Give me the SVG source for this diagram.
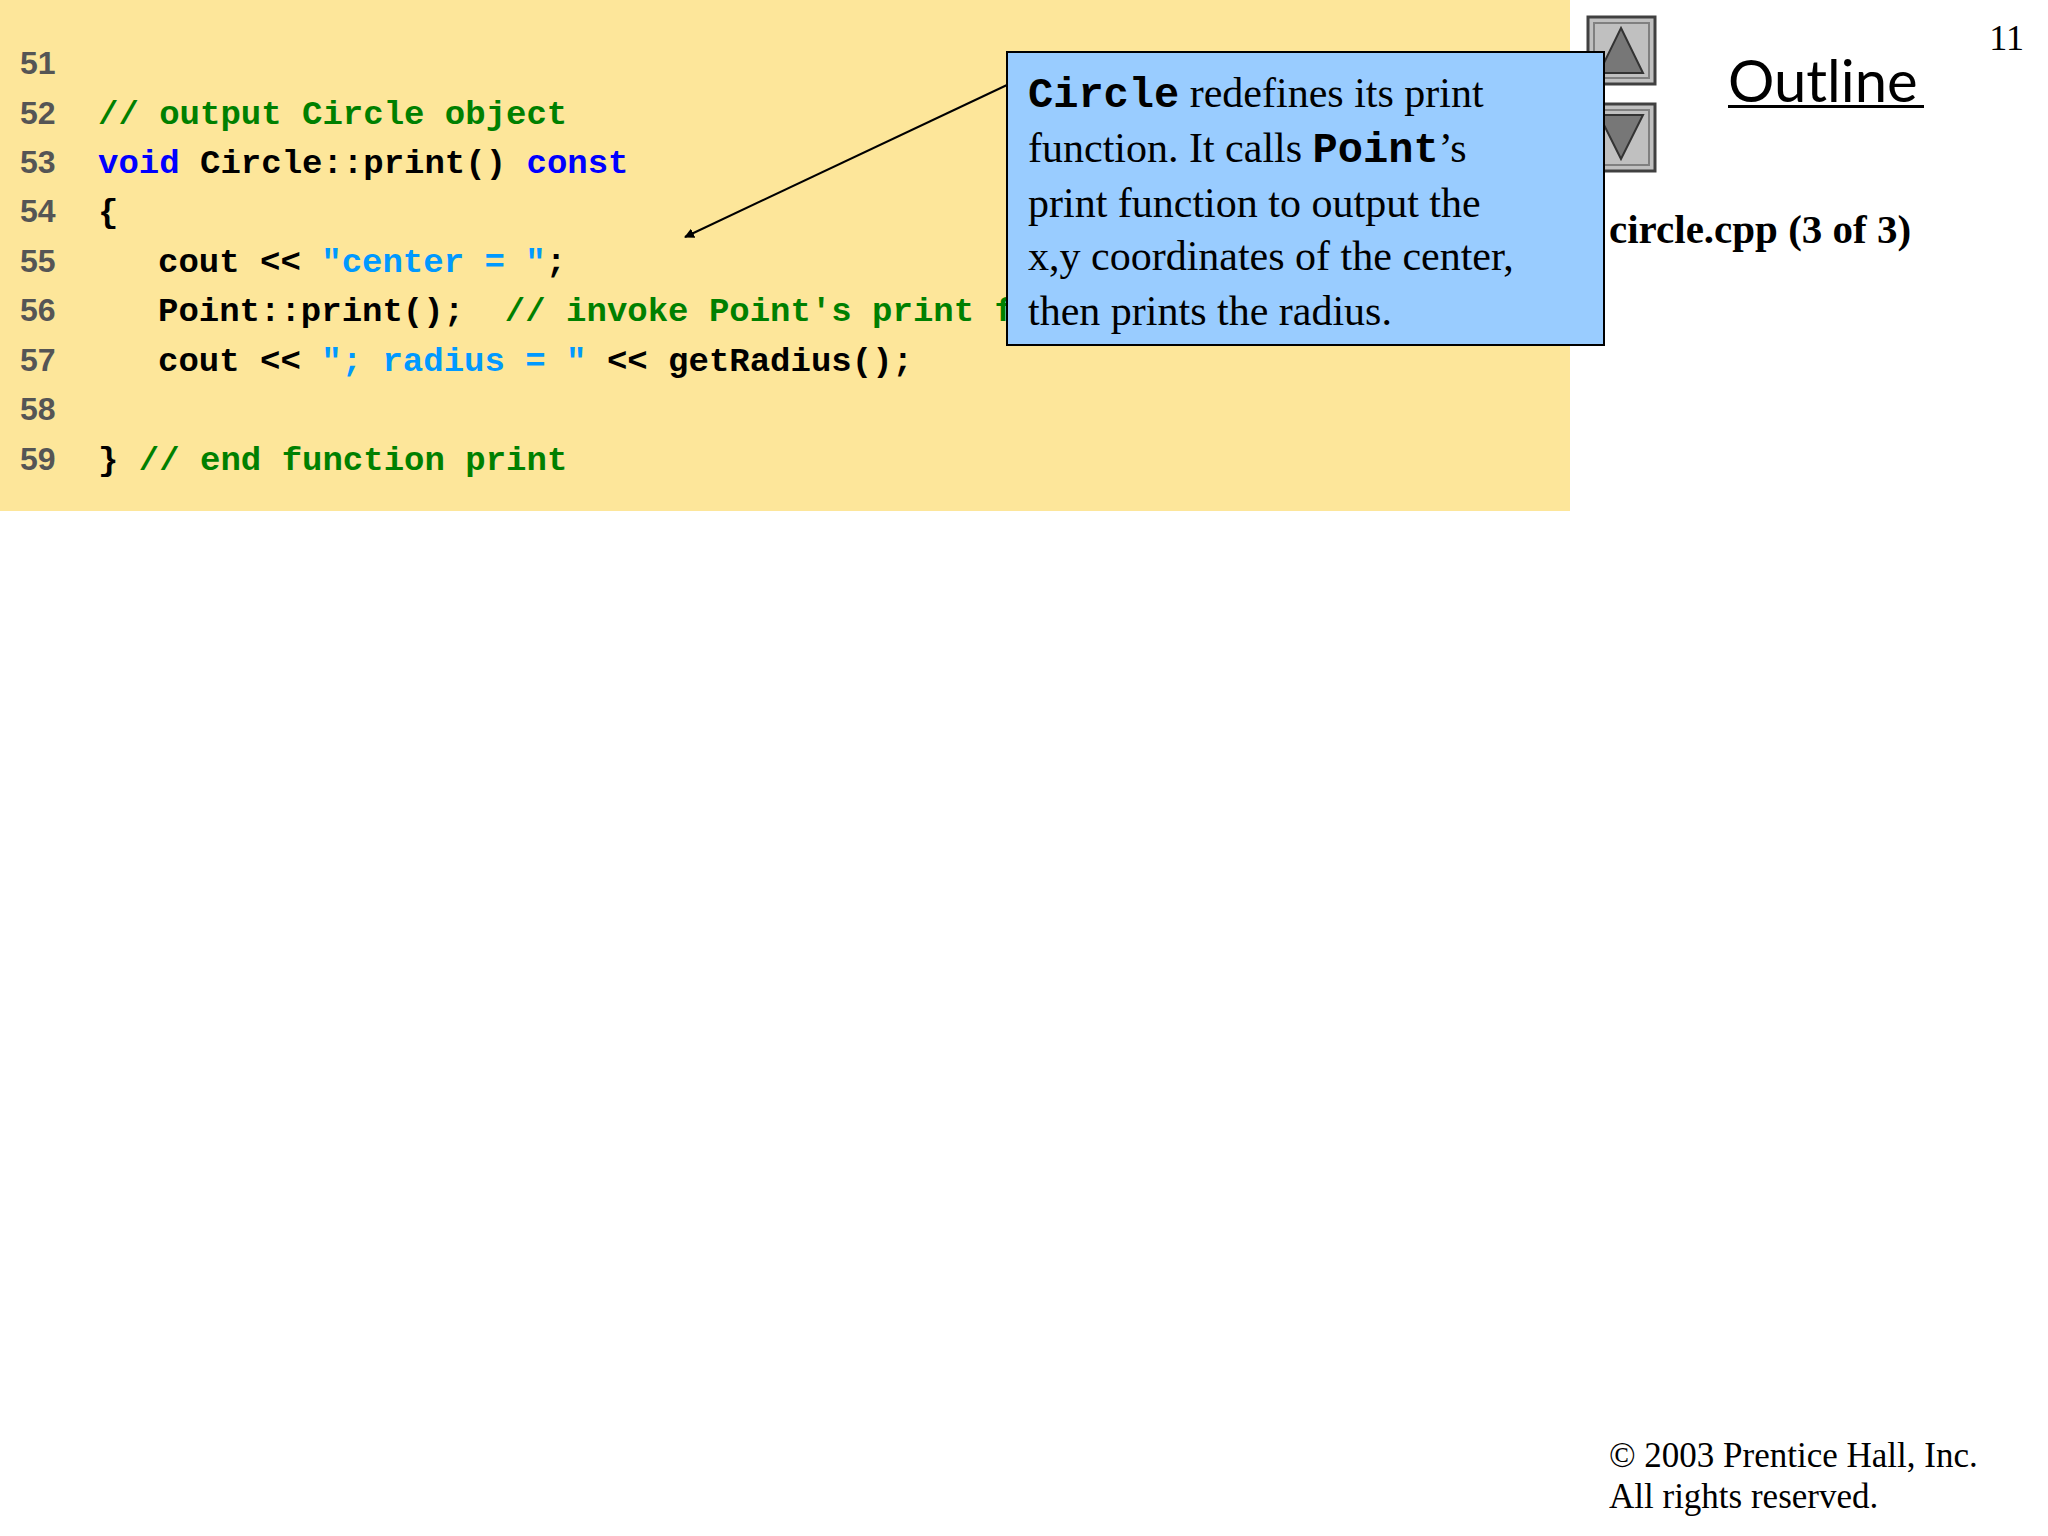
<svg xmlns="http://www.w3.org/2000/svg" width="2048" height="1536" viewBox="0 0 2048 1536">
<style>
.ln{font-family:"Liberation Sans",Arial,sans-serif;font-size:32px;font-weight:bold;fill:#555}
.c{font-family:"Liberation Mono",monospace;font-size:34px;font-weight:bold;fill:#000;white-space:pre}
.cm{fill:#008000}.kw{fill:#0000ff}.st{fill:#0099ff}
.t{font-family:"Liberation Serif",serif;font-size:42px;fill:#000}
.m{font-family:"Liberation Mono",monospace;font-weight:bold}
</style>
<defs><marker id="ah" markerWidth="10" markerHeight="10" refX="9" refY="5" orient="auto" markerUnits="userSpaceOnUse" viewBox="0 0 10 10"><path d="M0,0L10,5L0,10z" fill="#000"/></marker></defs>
<rect x="0" y="0" width="1570" height="511" fill="#fde69a"/>
<g id="code">
<text class="ln" x="20" y="74">51</text>
<text class="ln" x="20" y="124">52</text>
<text class="ln" x="20" y="173">53</text>
<text class="ln" x="20" y="222">54</text>
<text class="ln" x="20" y="272">55</text>
<text class="ln" x="20" y="321">56</text>
<text class="ln" x="20" y="371">57</text>
<text class="ln" x="20" y="420">58</text>
<text class="ln" x="20" y="470">59</text>
<text class="c" x="98" y="124"><tspan class="cm">// output Circle object</tspan></text>
<text class="c" x="98" y="173"><tspan class="kw">void</tspan> Circle::print() <tspan class="kw">const</tspan></text>
<text class="c" x="98" y="222">{</text>
<text class="c" x="158" y="272">cout &lt;&lt; <tspan class="st">"center = "</tspan>;</text>
<text class="c" x="158" y="321">Point::print();  <tspan class="cm">// invoke Point's print f</tspan></text>
<text class="c" x="158" y="371">cout &lt;&lt; <tspan class="st">"; radius = "</tspan> &lt;&lt; getRadius();</text>
<text class="c" x="98" y="470">} <tspan class="cm">// end function print</tspan></text>
</g>
<g id="nav">
<rect x="1588" y="17" width="67" height="67" fill="#c0c0c0" stroke="#404040" stroke-width="3"/>
<rect x="1594" y="23" width="55" height="55" fill="none" stroke="#808080" stroke-width="2"/>
<path d="M1621,28L1643,73H1599z" fill="#777" stroke="#333" stroke-width="2"/>
<rect x="1588" y="104" width="67" height="67" fill="#c0c0c0" stroke="#404040" stroke-width="3"/>
<rect x="1594" y="110" width="55" height="55" fill="none" stroke="#808080" stroke-width="2"/>
<path d="M1599,115H1643L1621,159z" fill="#777" stroke="#333" stroke-width="2"/>
</g>
<g id="connectors"><line x1="1007" y1="85" x2="685" y2="237" stroke="#000" stroke-width="2" marker-end="url(#ah)"/></g>
<g id="callout">
<rect x="1007" y="52" width="597" height="293" fill="#99ccff" stroke="#000" stroke-width="2"/>
<text class="t" x="1028" y="107"><tspan class="m">Circle</tspan> redefines its print</text>
<text class="t" x="1028" y="162">function. It calls <tspan class="m">Point</tspan>’s</text>
<text class="t" x="1028" y="217">print function to output the</text>
<text class="t" x="1028" y="270">x,y coordinates of the center,</text>
<text class="t" x="1028" y="325">then prints the radius.</text>
</g>
<text x="1728" y="102" font-family="Lato,'Open Sans',sans-serif" font-size="58" fill="#000">Outline</text>
<rect x="1728" y="105" width="196" height="3" fill="#000"/>
<text x="2024" y="50" text-anchor="end" font-family="'Liberation Serif',serif" font-size="36" fill="#000">11</text>
<text x="1609" y="243" font-family="'Liberation Serif',serif" font-size="41" font-weight="bold" fill="#000">circle.cpp (3 of 3)</text>
<text x="1609" y="1467" font-family="'Liberation Serif',serif" font-size="35" fill="#000">© 2003 Prentice Hall, Inc.</text>
<text x="1609" y="1508" font-family="'Liberation Serif',serif" font-size="35" fill="#000">All rights reserved.</text>
</svg>
